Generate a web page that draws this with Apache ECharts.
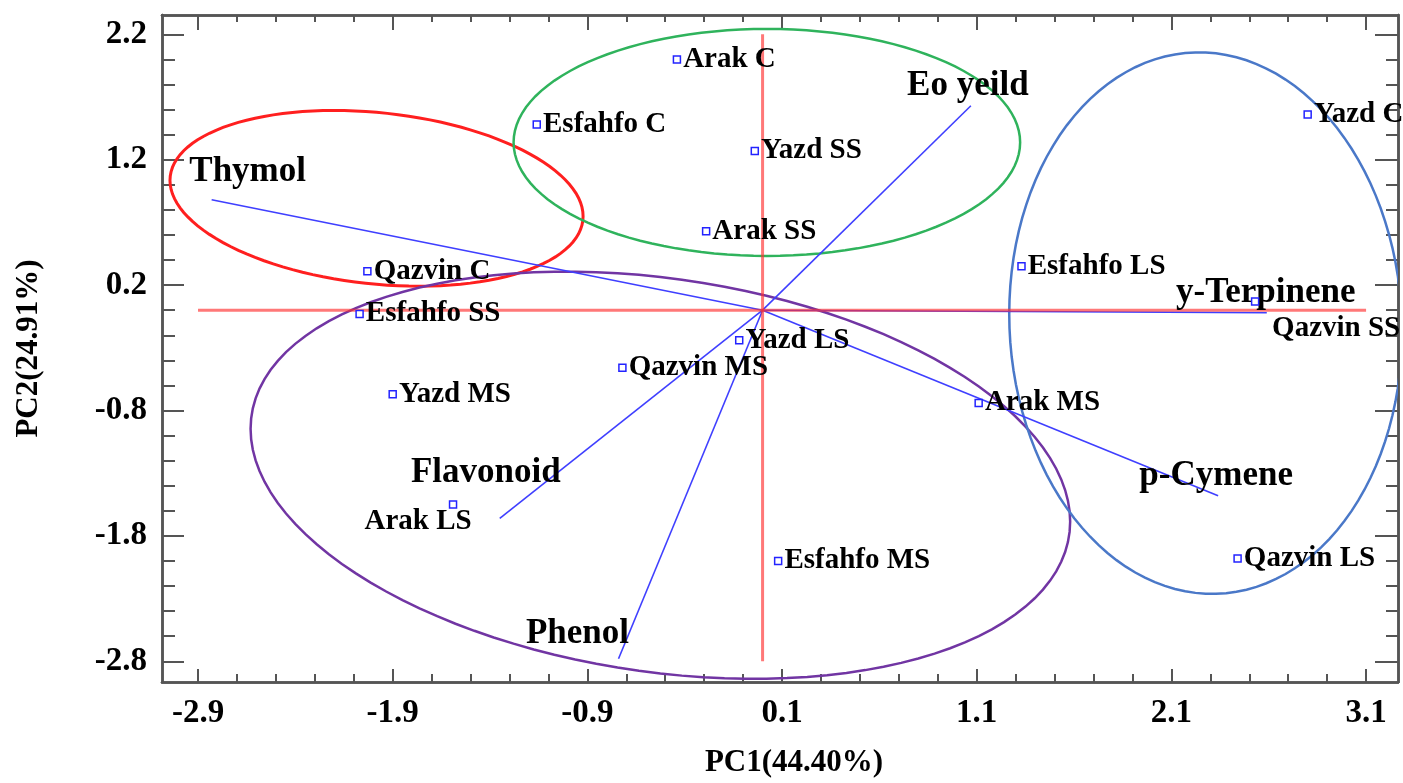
<!DOCTYPE html>
<html>
<head>
<meta charset="utf-8">
<title>PCA biplot</title>
<script src="https://cdn.jsdelivr.net/npm/echarts@6/dist/echarts.min.js"></script>
<style>
    html, body { margin: 0; padding: 0; background: #fff; }
    #chart { width: 1403px; height: 783px; }
</style>
</head>
<body>
<div id="chart"></div>
<script>
// sample scores (PC1, PC2)
var sampleNames = ['Arak C', 'Esfahfo C', 'Yazd SS', 'Arak SS', 'Qazvin C', 'Esfahfo SS', 'Yazd LS', 'Qazvin MS',
    'Yazd MS', 'Arak LS', 'Esfahfo MS', 'Arak MS', 'Esfahfo LS', 'Yazd C', 'Qazvin SS', 'Qazvin LS'];
var samplePC1 = [-0.44, -1.16, -0.04, -0.29, -2.03, -2.07, -0.12, -0.72, -1.90, -1.59, 0.08, 1.11, 1.33, 2.80, 2.53, 2.44];
var samplePC2 = [2.00, 1.48, 1.27, 0.63, 0.31, -0.03, -0.24, -0.46, -0.67, -1.55, -2.00, -0.74, 0.35, 1.56, 0.07, -1.98];

// variable loadings (vector tips)
var loadingNames = ['Thymol', 'Eo yeild', 'Flavonoid', 'Phenol', 'p-Cymene', 'y-Terpinene'];
var loadingPC1 = [-2.83, 1.07, -1.35, -0.74, 2.34, 2.59];
var loadingPC2 = [0.88, 1.63, -1.66, -2.78, -1.48, -0.02];

// group ellipses: centre and two conjugate semi-axes, in data units
var ellipseCenters = [[-1.983, 0.892], [0.022, 1.338], [-0.525, -1.316], [2.276, -0.103]];
var ellipseU = [[1.061, -0.143], [1.301, 0], [2.105, -0.370], [1.009, -0.072]];
var ellipseV = [[0, 0.686], [0, 0.905], [0, 1.581], [0, 2.158]];

// red reference cross
var crossX = [-2.9, 3.1];
var crossY = [-2.8, 2.2];

// ticks
var xMajor = [-2.9, -1.9, -0.9, 0.1, 1.1, 2.1, 3.1];
var yMajor = [-2.8, -1.8, -0.8, 0.2, 1.2, 2.2];
var xMin = -3.085, xMax = 3.264;
var yMin = -2.965, yMax = 2.354;

function minorTicks(major) {
    var out = [];
    for (var i = 0; i < major.length - 1; i++) {
        for (var k = 1; k < 5; k++) {
            out.push(+(major[i] + k * 0.2).toFixed(2));
        }
    }
    return out;
}
var xMinor = minorTicks(xMajor);
var yMinor = minorTicks(yMajor);

var ellipseColors = ['#ff1f1f', '#2fb35c', '#7135a3', '#4a78c8'];
var axisColor = '#555';
var serif = 'Liberation Serif';

// label placement tweaks
var sampleLabelFix = {
    'Arak LS': { position: 'inside', align: 'center', offset: [-35, 17] },
    'Qazvin SS': { position: 'inside', align: 'left', offset: [17, 27] }
};
var loadingLabelOffset = {
    'Thymol': [36, -28],
    'Eo yeild': [-3, -20],
    'Flavonoid': [-14, -45],
    'Phenol': [-41, -25],
    'p-Cymene': [-2, -20],
    'y-Terpinene': [-1, -20]
};

function makeX(pos, ticks, len, withLabel) {
    return {
        type: 'value',
        position: pos,
        min: xMin,
        max: xMax,
        splitLine: { show: false },
        axisLine: { show: true, onZero: false, lineStyle: { color: axisColor, width: 2.5 } },
        axisTick: { show: true, inside: true, length: len, customValues: ticks, lineStyle: { color: axisColor, width: 2 } },
        axisLabel: withLabel ? {
            show: true,
            customValues: xMajor,
            margin: 15,
            formatter: function(v) { return v.toFixed(1); },
            fontFamily: serif,
            fontWeight: 'bold',
            fontSize: 33,
            color: '#000'
        } : { show: false }
    };
}

function makeY(pos, ticks, len, withLabel) {
    return {
        type: 'value',
        position: pos,
        min: yMin,
        max: yMax,
        splitLine: { show: false },
        axisLine: { show: true, onZero: false, lineStyle: { color: axisColor, width: 2.5 } },
        axisTick: { show: true, inside: true, length: len, customValues: ticks, lineStyle: { color: axisColor, width: 2 } },
        axisLabel: withLabel ? {
            show: true,
            customValues: yMajor,
            margin: 15,
            formatter: function(v) { return v.toFixed(1); },
            fontFamily: serif,
            fontWeight: 'bold',
            fontSize: 33,
            color: '#000'
        } : { show: false }
    };
}

var xAxes = [
    makeX('bottom', xMajor, 13, true),
    makeX('bottom', xMinor, 8, false),
    makeX('top', xMajor, 15, false),
    makeX('top', xMinor, 7, false)
];
xAxes[0].name = 'PC1(44.40%)';
xAxes[0].nameLocation = 'middle';
xAxes[0].nameGap = 65;
xAxes[0].nameTextStyle = { fontFamily: serif, fontWeight: 'bold', fontSize: 31, color: '#000', padding: [0, 0, 0, 28] };

var yAxes = [
    makeY('left', yMajor, 22, true),
    makeY('left', yMinor, 13, false),
    makeY('right', yMajor, 23, false),
    makeY('right', yMinor, 12, false)
];
yAxes[0].name = 'PC2(24.91%)';
yAxes[0].nameLocation = 'middle';
yAxes[0].nameGap = 118;
yAxes[0].nameTextStyle = { fontFamily: serif, fontWeight: 'bold', fontSize: 31, color: '#000' };

var series = [];

// ellipses
series.push({
    type: 'custom',
    clip: true,
    z: 2,
    data: ellipseCenters.map(function(c, i) { return [c[0], c[1], i]; }),
    renderItem: function(params, api) {
        var i = params.dataIndex;
        var c = ellipseCenters[i], u = ellipseU[i], v = ellipseV[i];
        var pts = [];
        for (var k = 0; k < 120; k++) {
            var t = k / 120 * Math.PI * 2;
            pts.push(api.coord([
                c[0] + u[0] * Math.cos(t) + v[0] * Math.sin(t),
                c[1] + u[1] * Math.cos(t) + v[1] * Math.sin(t)
            ]));
        }
        return {
            type: 'polygon',
            shape: { points: pts },
            style: { fill: 'none', stroke: ellipseColors[i], lineWidth: i === 0 ? 3 : 2.5 }
        };
    }
});

// loading vectors
loadingNames.forEach(function(name, i) {
    series.push({
        type: 'line',
        z: 3,
        symbol: 'none',
        silent: true,
        lineStyle: { color: '#3f3fff', width: 1.6 },
        data: [[0, 0], [loadingPC1[i], loadingPC2[i]]]
    });
});

// red cross
series.push({
    type: 'line',
    z: 4,
    symbol: 'none',
    lineStyle: { color: '#ff3030', width: 3, opacity: 0.65 },
    data: [[crossX[0], 0], [crossX[1], 0]]
});
series.push({
    type: 'line',
    z: 4,
    symbol: 'none',
    lineStyle: { color: '#ff3030', width: 3, opacity: 0.65 },
    data: [[0, crossY[0]], [0, crossY[1]]]
});

// loading labels
series.push({
    type: 'scatter',
    z: 6,
    symbolSize: 0,
    itemStyle: { opacity: 1 },
    data: loadingNames.map(function(name, i) {
        return {
            name: name,
            value: [loadingPC1[i], loadingPC2[i]],
            label: { offset: loadingLabelOffset[name] }
        };
    }),
    label: {
        show: true,
        position: 'inside',
        formatter: '{b}',
        fontFamily: serif,
        fontWeight: 'bold',
        fontSize: 35,
        color: '#000'
    }
});

// samples
series.push({
    type: 'scatter',
    z: 7,
    symbol: 'rect',
    symbolSize: 7,
    itemStyle: { color: '#fff', borderColor: '#2323ff', borderWidth: 1.5, opacity: 1 },
    data: sampleNames.map(function(name, i) {
        var item = { name: name, value: [samplePC1[i], samplePC2[i]] };
        if (sampleLabelFix[name]) {
            item.label = sampleLabelFix[name];
        }
        return item;
    }),
    label: {
        show: true,
        position: 'right',
        distance: 2,
        formatter: '{b}',
        fontFamily: serif,
        fontWeight: 'bold',
        fontSize: 29,
        color: '#000'
    }
});

var chart = echarts.init(document.getElementById('chart'));
chart.setOption({
    animation: false,
    backgroundColor: '#fff',
    grid: { left: 162, right: 5, top: 15, bottom: 100, containLabel: false },
    xAxis: xAxes,
    yAxis: yAxes,
    series: series
});
</script>
</body>
</html>
